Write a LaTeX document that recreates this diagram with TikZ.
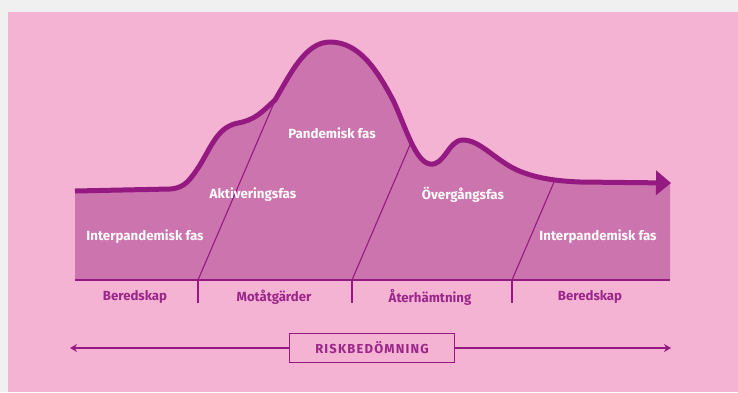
\documentclass[tikz,border=0pt]{standalone}
\usepackage{fontspec}
\setmainfont{Fira Sans}
\usetikzlibrary{arrows.meta}
\definecolor{bgpink}{RGB}{245,179,211}
\definecolor{areapink}{RGB}{204,116,174}
\definecolor{darkmag}{RGB}{148,26,130}
\definecolor{labmag}{RGB}{155,38,138}
\definecolor{margin}{RGB}{240,240,240}
\tikzset{
  phase/.style={text=white!96!pink, font=\bfseries\fontsize{13.3}{15}\selectfont, inner sep=0pt},
  stage/.style={text=labmag, font=\bfseries\fontsize{13.2}{15}\selectfont, inner sep=0pt},
  thinline/.style={draw=darkmag, line width=1.1pt},
  riskbox/.style={draw=darkmag, line width=1.2pt, minimum width=165pt, minimum height=29pt, text=labmag, font=\bfseries\fontsize{13}{15}\selectfont}
}
\begin{document}
\begin{tikzpicture}[x=1pt,y=-1pt]
\useasboundingbox (0,0) rectangle (738,392);
\fill[margin] (0,0) rectangle (738,392);
\fill[bgpink] (8,12) rectangle (738,392);
% filled area
\def\curve{(75,191) -- (170,189) .. controls (185,188) and (190,180) .. (200,165)
  .. controls (212,145) and (218,127) .. (238,123)
  .. controls (255,120) and (262,112) .. (275,100)
  .. controls (290,75) and (305,42) .. (330,42)
  .. controls (360,42) and (378,72) .. (393,100)
  .. controls (405,125) and (415,162) .. (430,164)
  .. controls (445,166) and (448,140) .. (463,140)
  .. controls (480,140) and (495,160) .. (517,170)
  .. controls (535,178) and (555,181) .. (580,182) -- (671,183)}
\fill[areapink] \curve -- (670,183) -- (670,280) -- (75,280) -- cycle;
\begin{scope}
  \clip \curve -- (670,183) -- (670,280) -- (75,280) -- cycle;
  \coordinate (d1b) at (198,280); \coordinate (d1t) at (301,40);
  \coordinate (d2b) at (352,280); \coordinate (d2t) at (455,40);
  \coordinate (d3b) at (512,280); \coordinate (d3t) at (615,40);
  \draw[thinline] (d1b) -- (d1t);
  \draw[thinline] (d2b) -- (d2t);
  \draw[thinline] (d3b) -- (d3t);
\end{scope}
\draw[darkmag, line width=5pt, -{Triangle[length=15pt,width=24pt]}] \curve;
% baseline and ticks
\coordinate (bl) at (75,280); \coordinate (br) at (670,280);
\draw[thinline] (bl) -- (br);
\coordinate (t1) at (198,303); \coordinate (t2) at (352,303); \coordinate (t3) at (512,303);
\draw[thinline] (d1b) -- (t1);
\draw[thinline] (d2b) -- (t2);
\draw[thinline] (d3b) -- (t3);
% phase labels
\node[phase] (ip1) at (145,237) {Interpandemisk fas};
\node[phase] (akt) at (253,195) {Aktiveringsfas};
\node[phase] (pan) at (332,133) {Pandemisk fas};
\node[phase] (ovg) at (463,195) {Övergångsfas};
\node[phase] (ip2) at (598,237) {Interpandemisk fas};
% stage labels
\node[stage] (s1) at (135,297) {Beredskap};
\node[stage] (s2) at (274,297) {Motåtgärder};
\node[stage] (s3) at (430,297) {Återhämtning};
\node[stage] (s4) at (590,297) {Beredskap};
% risk
\node[riskbox] (risk) at (372,348) {\addfontfeature{LetterSpace=9}RISKBEDÖMNING};
\coordinate (rl) at (70,348); \coordinate (rr) at (671,348);
\draw[darkmag, line width=1.4pt, -{Stealth[length=7pt,width=8pt]}] (risk.west) -- (rl);
\draw[darkmag, line width=1.4pt, -{Stealth[length=7pt,width=8pt]}] (risk.east) -- (rr);
\end{tikzpicture}
\end{document}
